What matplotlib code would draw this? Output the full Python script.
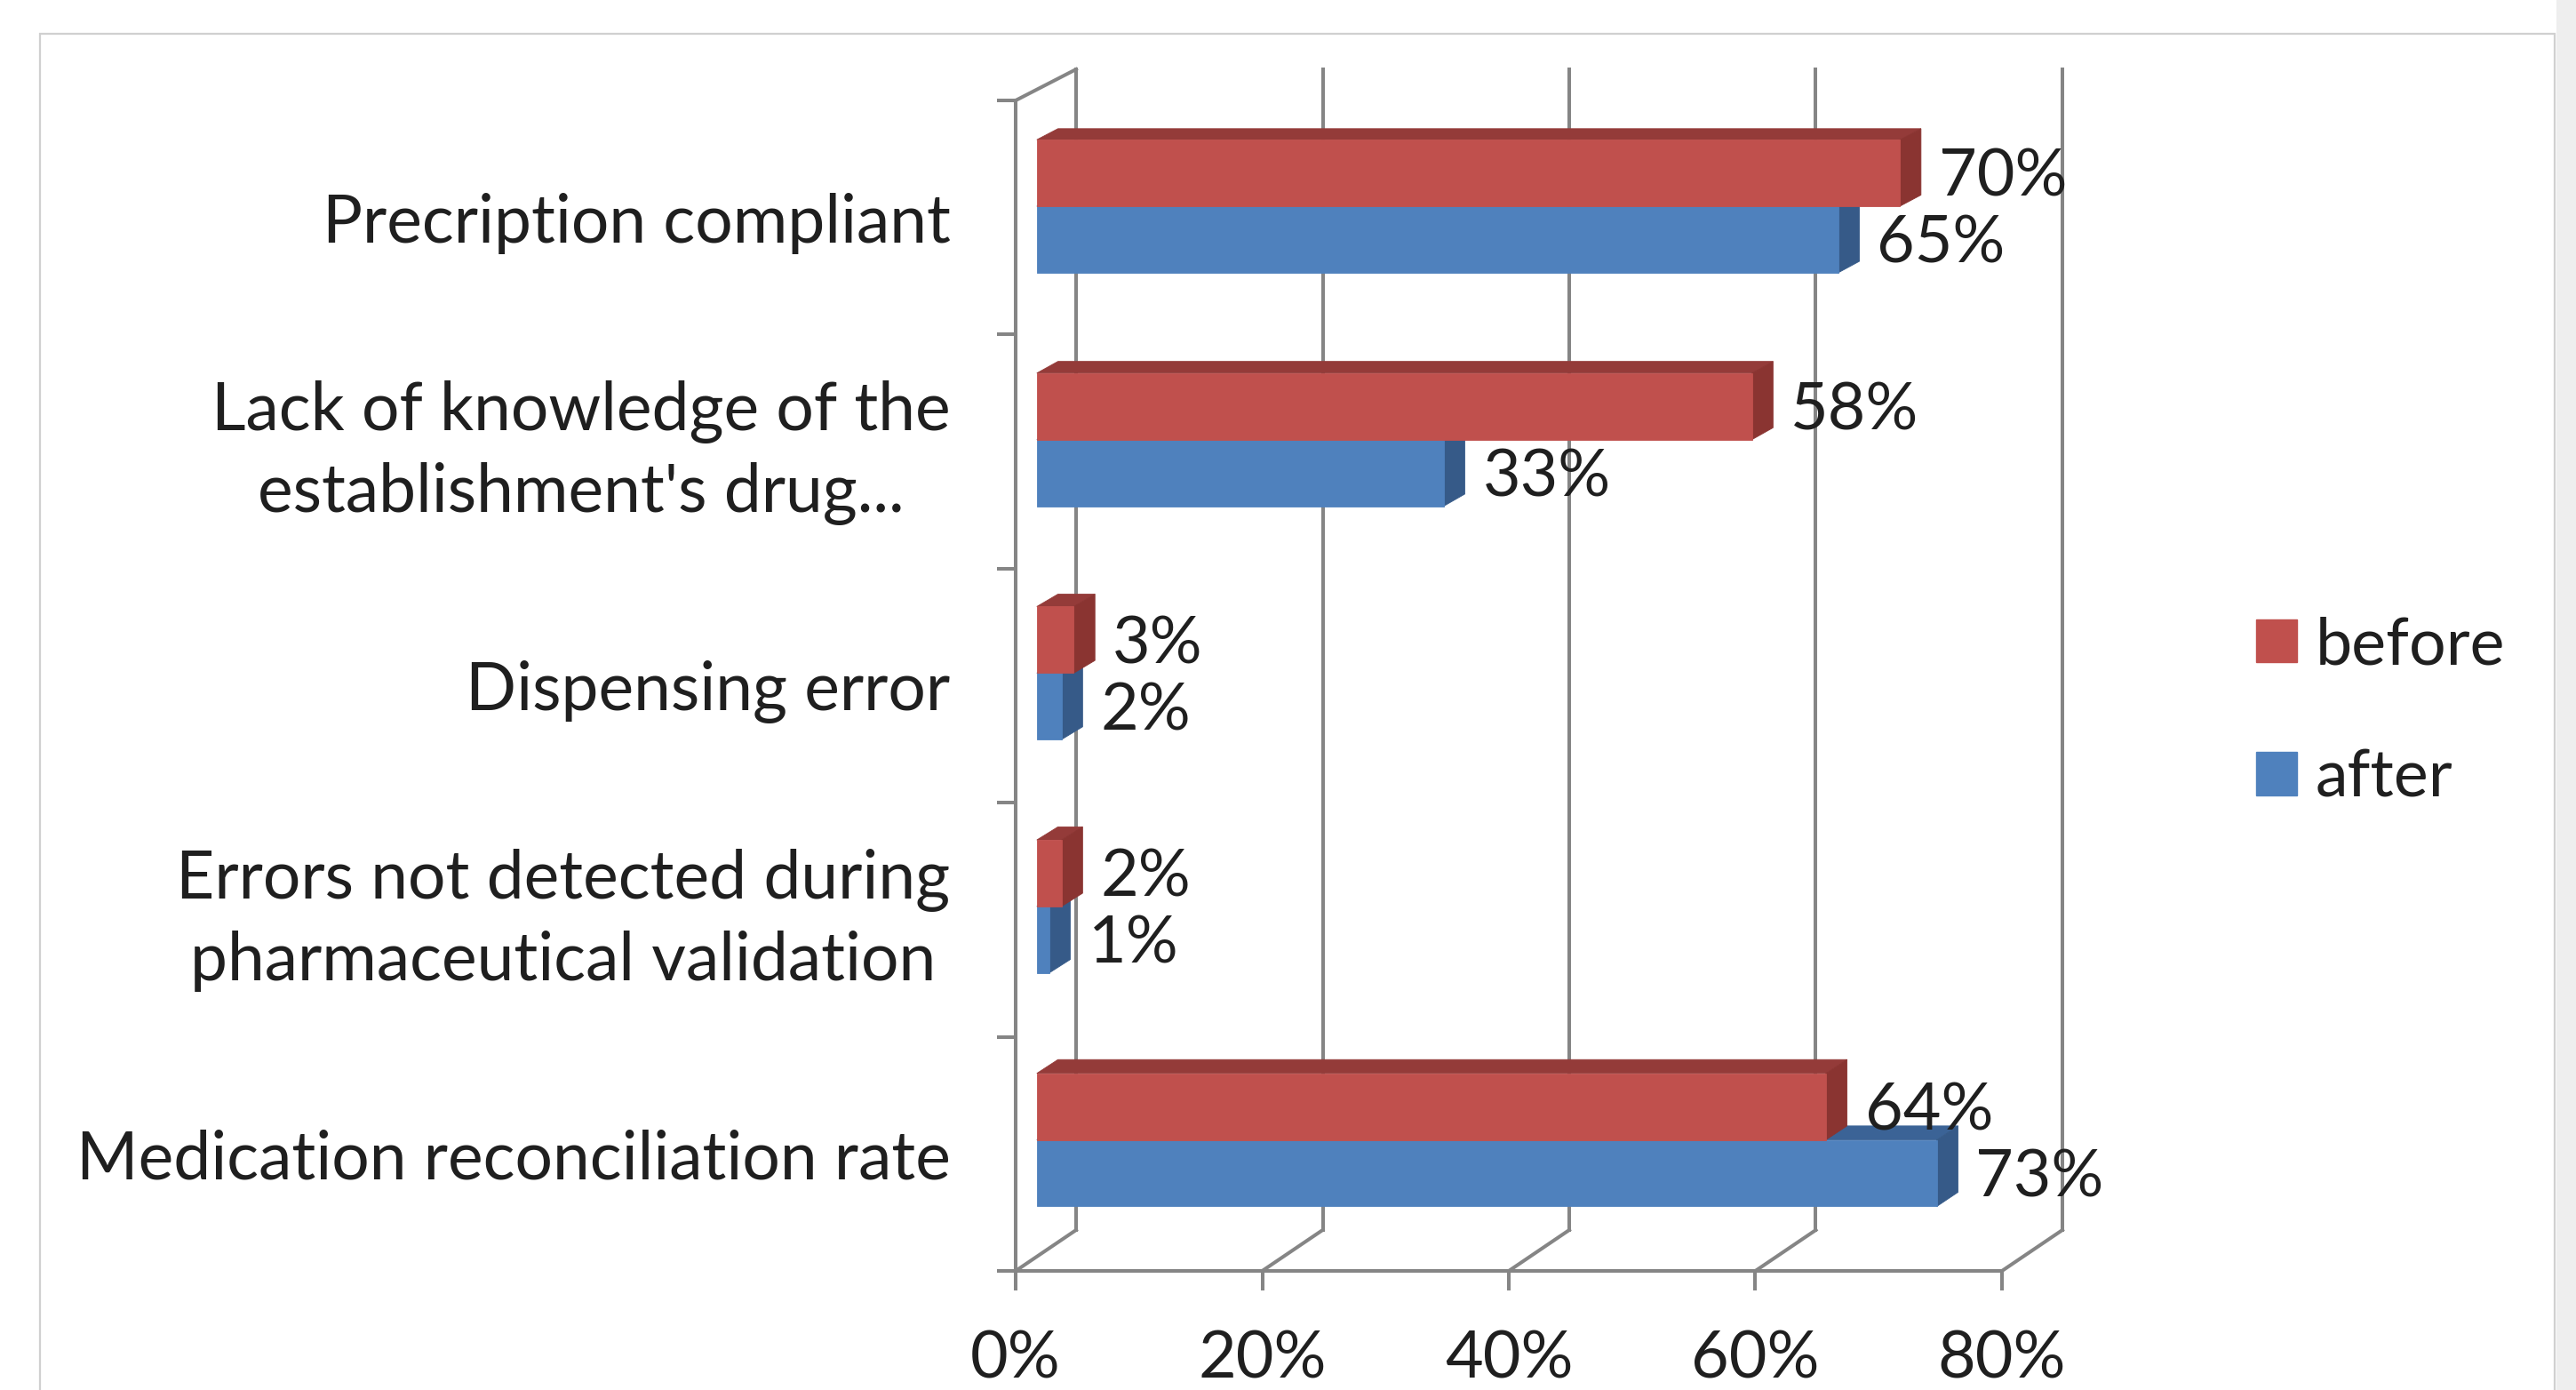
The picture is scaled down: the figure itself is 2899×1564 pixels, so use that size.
import matplotlib
matplotlib.use('Agg')
import matplotlib.pyplot as plt
from matplotlib.patches import Polygon, Patch, Rectangle
from matplotlib.lines import Line2D
from matplotlib.transforms import ScaledTranslation

plt.rcParams['font.family'] = ['Lato', 'DejaVu Sans']

# ---------------- data ----------------
categories = ["Precription compliant",
              "Lack of knowledge of the\nestablishment's drug...",
              "Dispensing error",
              "Errors not detected during\npharmaceutical validation",
              "Medication reconciliation rate"]
before = [70, 58, 3, 2, 64]
after = [65, 33, 2, 1, 73]
series_names = ["before", "after"]
xticks = [0, 20, 40, 60, 80]
xticklabels = ["0%", "20%", "40%", "60%", "80%"]

# ---------------- style ----------------
RED = dict(front='#C0504D', top='#943B39', side='#8A3431')
BLUE = dict(front='#4F81BD', top='#3B6396', side='#365A88')
GRAY = '#858585'
TXT = '#1f1f1f'
FS = 53
FS_CAT = 54
LW = 2.9

W, H, DPI = 2899, 1564, 100
fig = plt.figure(figsize=(W / DPI, H / DPI), dpi=DPI)
fig.patch.set_facecolor('white')

x0px, x1px = 1143, 2253
ytop_px, ybot_px = 113, 1430
ax = fig.add_axes([x0px / W, 1 - ybot_px / H, (x1px - x0px) / W, (ybot_px - ytop_px) / H])
n = len(categories)
ax.set_xlim(0, 80)
ax.set_ylim(0, n)
ax.patch.set_visible(False)

px_per_x = (x1px - x0px) / 80.0
px_per_y = (ybot_px - ytop_px) / n
DX = 68 / px_per_x


def dy(y):
    return (46 - 11 * y / n) / px_per_y


def P(x, y, z):
    return (x + z * DX, y + z * dy(y))


F0, F1 = 0.35, 0.70
BH = 0.285

# back wall gridlines, floor diagonals, left wall top edge
for t in xticks:
    a, b = P(t, 0, 1), P(t, n, 1)
    ax.add_line(Line2D([a[0], b[0]], [a[1], b[1]], color=GRAY, lw=LW, clip_on=False, zorder=1))
    a, b = P(t, 0, 0), P(t, 0, 1)
    ax.add_line(Line2D([a[0], b[0]], [a[1], b[1]], color=GRAY, lw=LW, clip_on=False, zorder=1))
a, b = P(0, n, 0), P(0, n, 1)
ax.add_line(Line2D([a[0], b[0]], [a[1], b[1]], color=GRAY, lw=LW, clip_on=False, zorder=1))


def bar3d(v, yb, yt, cols, z):
    front = [P(0, yb, F0), P(v, yb, F0), P(v, yt, F0), P(0, yt, F0)]
    top = [P(0, yt, F0), P(v, yt, F0), P(v, yt, F1), P(0, yt, F1)]
    side = [P(v, yb, F0), P(v, yb, F1), P(v, yt, F1), P(v, yt, F0)]
    for poly, key in ((top, 'top'), (side, 'side'), (front, 'front')):
        ax.add_patch(Polygon(poly, closed=True, facecolor=cols[key], edgecolor=cols[key],
                             lw=0.6, clip_on=False, zorder=z))


gap = 20 / px_per_x
for i in range(n):
    c = n - 0.5 - i
    bar3d(after[i], c - BH, c, BLUE, 3)
    bar3d(before[i], c, c + BH, RED, 4)
    for v, yc in ((before[i], c + BH / 2), (after[i], c - BH / 2)):
        xl = v + F1 * DX + gap
        yl = P(0, yc, F0)[1]
        ax.annotate(f"{v}%", xy=(xl, yl), xytext=(0, -0.358 * FS), textcoords='offset points',
                    ha='left', va='baseline', fontsize=FS, color=TXT, zorder=6,
                    annotation_clip=False)

# axes / ticks
for s in ('top', 'right'):
    ax.spines[s].set_visible(False)
for s in ('left', 'bottom'):
    ax.spines[s].set_color(GRAY)
    ax.spines[s].set_linewidth(LW)
    ax.spines[s].set_zorder(2)

ax.set_xticks(xticks)
ax.set_xticklabels(xticklabels)
ax.tick_params(axis='x', direction='out', length=16, width=LW, color=GRAY,
               labelsize=FS, labelcolor=TXT, pad=32)

ax.set_yticks(list(range(n + 1)))
ax.set_yticklabels([])
centers = [n - 0.5 - i for i in range(n)]
ax.set_yticks(centers, minor=True)
ax.set_yticklabels(categories, minor=True, multialignment='center', linespacing=1.38)
ax.tick_params(axis='y', which='major', direction='out', length=15, width=LW, color=GRAY)
ax.tick_params(axis='y', which='minor', length=0, labelsize=FS_CAT, labelcolor=TXT, pad=53)
for lab in ax.get_yticklabels(minor=True):
    if '\n' in lab.get_text():
        lab.set_transform(lab.get_transform() + ScaledTranslation(0, 12 / 72, fig.dpi_scale_trans))

# legend
handles = [Patch(facecolor=RED['front'], edgecolor=RED['front']),
           Patch(facecolor=BLUE['front'], edgecolor=BLUE['front'])]
fig.legend(handles, series_names, loc='upper left', bbox_to_anchor=(2539 / W, 1 - 693 / H),
           frameon=False, fontsize=FS, handlelength=0.63, handleheight=0.63,
           handletextpad=0.28, labelspacing=1.12, borderpad=0, borderaxespad=0,
           labelcolor=TXT)

# outer frame
fig.patches.append(Rectangle((45 / W, -0.1), (2875 - 45) / W, 1 - 38 / H + 0.1,
                             transform=fig.transFigure, fill=False, edgecolor='#d0d0d0', lw=1.6))
fig.patches.append(Rectangle((2877 / W, 0), 22 / W, 1, transform=fig.transFigure,
                             facecolor='#eeeeee', edgecolor='none'))

fig.savefig('out.png', dpi=DPI)
